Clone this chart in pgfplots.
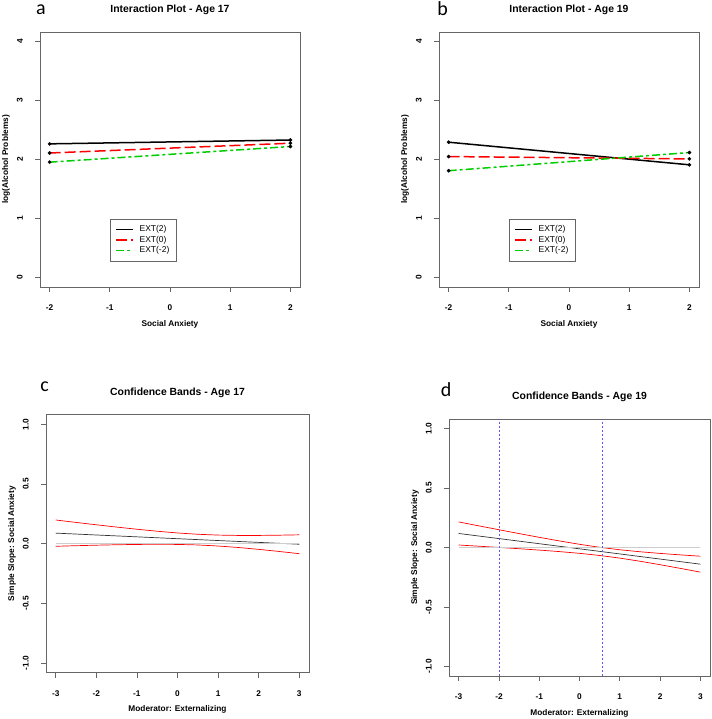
\documentclass[border=0pt]{standalone}
\usepackage{pgfplots}
\pgfplotsset{compat=1.18}
\usepackage{fontspec}
\setmainfont{Liberation Sans}
\newfontfamily\letterfont{Carlito}
\definecolor{rgreen}{RGB}{0,205,0}
\definecolor{jnblue}{RGB}{95,85,245}
\definecolor{zerogray}{RGB}{205,205,205}

% panel c: x, lower, slope, upper
\pgfplotstableread{
x    lo      mid     hi
-3.0 -0.0215 0.0885  0.1985
-2.5 -0.0167 0.0808  0.1783
-2.0 -0.0124 0.0730  0.1584
-1.5 -0.0087 0.0653  0.1393
-1.0 -0.0061 0.0575  0.1211
-0.5 -0.0048 0.0498  0.1044
0.0  -0.0060 0.0420  0.0900
0.5  -0.0104 0.0343  0.0790
1.0  -0.0192 0.0265  0.0722
1.5  -0.0317 0.0188  0.0693
2.0  -0.0473 0.0110  0.0693
2.5  -0.0647 0.0033  0.0713
3.0  -0.0835 -0.0045 0.0745
}\bandsC
% panel d
\pgfplotstableread{
x    lo      mid     hi
-3.0 0.0210  0.1180  0.2150
-2.5 0.0110  0.0965  0.1820
-2.0 0.0006  0.0750  0.1494
-1.5 -0.0101 0.0535  0.1171
-1.0 -0.0216 0.0320  0.0856
-0.5 -0.0343 0.0105  0.0553
0.0  -0.0489 -0.0110 0.0269
0.5  -0.0669 -0.0325 0.0019
1.0  -0.0891 -0.0540 -0.0189
1.5  -0.1153 -0.0755 -0.0357
2.0  -0.1444 -0.0970 -0.0496
2.5  -0.1752 -0.1185 -0.0618
3.0  -0.2070 -0.1400 -0.0730
}\bandsD

\pgfplotsset{
  rpanel/.style={
    scale only axis,
    axis line style={black!60, line width=0.7pt},
    every tick/.style={black!60, line width=0.7pt},
    tick align=outside, major tick length=5pt,
    xtick pos=bottom, ytick pos=left,
    xticklabel style={font=\fontsize{8.3}{10}\selectfont\bfseries, anchor=north, inner sep=0pt},
    yticklabel style={font=\fontsize{8.3}{10}\selectfont\bfseries, rotate=90, anchor=south, inner sep=0pt},
    xticklabel shift=12.5pt, yticklabel shift=12pt,
    title style={at={([yshift=16pt]axis description cs:0.5,1)}, anchor=center, font=\fontsize{10.4}{12}\selectfont\bfseries},
    xlabel style={at={([yshift=-37pt]axis description cs:0.5,0)}, anchor=center, font=\fontsize{8.3}{10}\selectfont\bfseries},
    ylabel style={at={([xshift=-34pt]axis description cs:0,0.5)}, anchor=center, font=\fontsize{8.3}{10}\selectfont\bfseries},
  },
  inter/.style={rpanel,
    xmin=-2.16, xmax=2.16, ymin=-0.16, ymax=4.16,
    xtick={-2,-1,0,1,2}, xticklabels={-2,-1,0,1,2},
    ytick={0,1,2,3,4}, yticklabels={0,1,2,3,4},
    xlabel={Social Anxiety}, ylabel={log(Alcohol Problems)},
    width=260pt, height=255pt,
    legend style={at={(axis cs:-1,1)}, anchor=north west, draw=black!60, line width=0.6pt,
      font=\fontsize{8.5}{9}\selectfont, inner xsep=5pt, inner ysep=5pt,
      row sep=-1.2pt, cells={anchor=west}},
    legend image code/.code={\draw[#1] (0pt,0pt) -- (17pt,0pt); \path (21pt,0pt);},
  },
  band/.style={rpanel,
    xmin=-3.24, xmax=3.24, ymin=-1.08, ymax=1.08,
    xtick={-3,-2,-1,0,1,2,3}, xticklabels={-3,-2,-1,0,1,2,3},
    ytick={-1,-0.5,0,0.5,1}, yticklabels={-1.0,-0.5,0.0,0.5,1.0},
    xlabel={Moderator: Externalizing}, ylabel={Simple Slope: Social Anxiety},
  },
  ln/.style={line width=1.5pt, mark=*, mark size=1.7pt,
    mark options={solid, fill=black, draw=black, line width=0.3pt}},
}

\begin{document}
\begin{tikzpicture}
\useasboundingbox (0,0) rectangle (711pt,-719pt);

% a
\begin{axis}[inter, at={(40pt,-287pt)}, anchor=south west, title={Interaction Plot - Age 17}]
\addplot[ln, black] coordinates {(-2,2.265) (2,2.330)};
\addlegendentry{EXT(2)}
\addplot[ln, red, dash pattern=on 11pt off 4pt] coordinates {(-2,2.110) (2,2.276)};
\addlegendentry{EXT(0)}
\addplot[ln, rgreen, dash pattern=on 8pt off 3pt on 3pt off 3pt] coordinates {(-2,1.955) (2,2.220)};
\addlegendentry{EXT(-2)}
\end{axis}

% b
\begin{axis}[inter, at={(439pt,-287pt)}, anchor=south west, title={Interaction Plot - Age 19}]
\addplot[ln, black] coordinates {(-2,2.293) (2,1.910)};
\addlegendentry{EXT(2)}
\addplot[ln, red, dash pattern=on 11pt off 4pt] coordinates {(-2,2.050) (2,2.010)};
\addlegendentry{EXT(0)}
\addplot[ln, rgreen, dash pattern=on 8pt off 3pt on 3pt off 3pt] coordinates {(-2,1.810) (2,2.118)};
\addlegendentry{EXT(-2)}
\end{axis}

% c
\begin{axis}[band, at={(46pt,-672.7pt)}, anchor=south west, width=263pt, height=258pt, title={Confidence Bands - Age 17}]
\addplot[red, line width=0.7pt] table[x=x, y=hi] {\bandsC};
\addplot[red, line width=0.7pt] table[x=x, y=lo] {\bandsC};
\addplot[black!80, line width=0.7pt] table[x=x, y=mid] {\bandsC};
\addplot[zerogray, line width=0.8pt] coordinates {(-3,0) (3,0)};
\end{axis}

% d
\begin{axis}[band, at={(449pt,-676pt)}, anchor=south west, width=261pt, height=257pt, title={Confidence Bands - Age 19}]
\addplot[red, line width=0.7pt] table[x=x, y=hi] {\bandsD};
\addplot[red, line width=0.7pt] table[x=x, y=lo] {\bandsD};
\addplot[black!80, line width=0.7pt] table[x=x, y=mid] {\bandsD};
\addplot[zerogray, line width=0.8pt] coordinates {(-3,0) (3,0)};
\addplot[jnblue, line width=0.8pt, dash pattern=on 2pt off 2pt] coordinates {(-1.98,-1.08) (-1.98,1.08)};
\addplot[jnblue, line width=0.8pt, dash pattern=on 2pt off 2pt] coordinates {(0.58,-1.08) (0.58,1.08)};
\end{axis}

% panel letters
\node[font=\letterfont\fontsize{20}{20}\selectfont] at (41pt,-10pt) {a};
\node[font=\letterfont\fontsize{20}{20}\selectfont] at (442.5pt,-9pt) {b};
\node[font=\letterfont\fontsize{20}{20}\selectfont] at (44.5pt,-387pt) {c};
\node[font=\letterfont\fontsize{20}{20}\selectfont] at (446pt,-390pt) {d};
\end{tikzpicture}
\end{document}
